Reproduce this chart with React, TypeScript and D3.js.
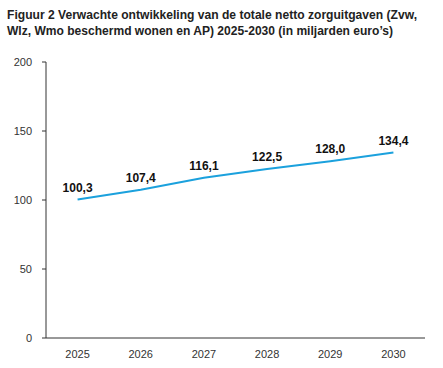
import React from "react";
import * as d3 from "d3";

const years = ["2025", "2026", "2027", "2028", "2029", "2030"];
const values = [100.3, 107.4, 116.1, 122.5, 128.0, 134.4];
const yTicks = [0, 50, 100, 150, 200];
const titleLines = [
  "Figuur 2 Verwachte ontwikkeling van de totale netto zorguitgaven (Zvw,",
  "Wlz, Wmo beschermd wonen en AP) 2025-2030 (in miljarden euro\u2019s)",
];
const titleWidths = [410, 386];

const W = 443;
const H = 368;
const left = 46;
const right = 425;
const top = 62;
const bottom = 338;

export default function App() {
  const x = d3.scalePoint<string>().domain(years).range([left, right]).padding(0.5);
  const y = d3.scaleLinear().domain([0, 200]).range([bottom, top]);
  const line = d3
    .line<number>()
    .x((_, i) => x(years[i]) as number)
    .y((d) => y(d));
  const fmt = (v: number) => v.toFixed(1).replace(".", ",");

  return (
    <svg
      width={W}
      height={H}
      style={{ position: "absolute", left: 0, top: 0, background: "#fff" }}
      fontFamily="'Liberation Sans', Arial, sans-serif"
    >
      {titleLines.map((t, i) => (
        <text
          key={i}
          x={7}
          y={19 + i * 16}
          fontSize={12.5}
          fontWeight="bold"
          fill="#222"
          textLength={titleWidths[i]}
          lengthAdjust="spacingAndGlyphs"
        >
          {t}
        </text>
      ))}
      {/* y axis */}
      <line x1={left} x2={left} y1={top} y2={bottom} stroke="#333" strokeWidth={1} />
      {yTicks.map((t) => (
        <g key={t}>
          <line x1={left - 4} x2={left} y1={y(t)} y2={y(t)} stroke="#333" />
          <text x={32} y={y(t) + 4} fontSize={11} textAnchor="end" fill="#333">
            {t}
          </text>
        </g>
      ))}
      {/* x axis */}
      <line x1={left} x2={right} y1={bottom} y2={bottom} stroke="#333" strokeWidth={1} />
      {years.map((yr) => (
        <text key={yr} x={x(yr)} y={358} fontSize={11} textAnchor="middle" fill="#333">
          {yr}
        </text>
      ))}
      <path d={line(values) ?? ""} fill="none" stroke="#1ba1dd" strokeWidth={2} />
      {values.map((v, i) => (
        <text
          key={i}
          x={x(years[i])}
          y={y(v) - 8}
          fontSize={12}
          fontWeight="bold"
          textAnchor="middle"
          fill="#111"
        >
          {fmt(v)}
        </text>
      ))}
    </svg>
  );
}
